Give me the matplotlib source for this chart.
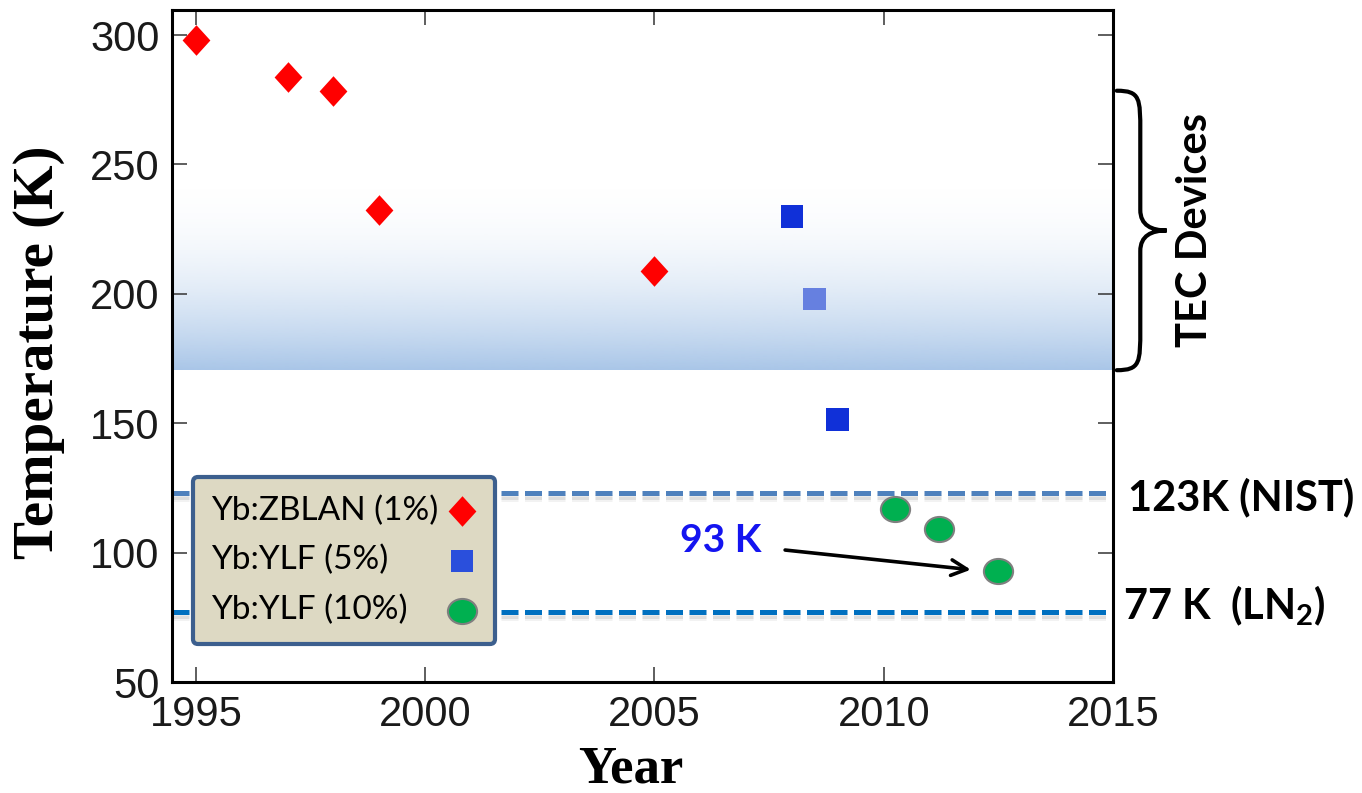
import numpy as np
import matplotlib
matplotlib.use("Agg")
import matplotlib.pyplot as plt
import matplotlib.patheffects as pe
from matplotlib.path import Path
from matplotlib.patches import PathPatch
from matplotlib.offsetbox import DrawingArea
from matplotlib.transforms import Affine2D, blended_transform_factory

plt.rcParams['mathtext.fontset'] = 'custom'
plt.rcParams['mathtext.rm'] = 'Lato:bold'
plt.rcParams['mathtext.bf'] = 'Lato:bold'

# -------------------------
# dados
# -------------------------
zblan_ano = [1995, 1997, 1998, 1999, 2005]
zblan_temp = [298, 284, 278.5, 232.5, 209]

ylf5_ano = [2008.0, 2008.5, 2009.0]
ylf5_temp = [230, 198, 151.5]
ylf5_cores = ['#1030d8', '#6680e0', '#1030d8']

ylf10_ano = [2010.25, 2011.2, 2012.5]
ylf10_temp = [117, 109, 93]

labels = ['Yb:ZBLAN (1%)', 'Yb:YLF (5%)', 'Yb:YLF (10%)']

nist_temp = 123
ln2_temp = 77
tec_faixa = (170.5, 278.5)   # chave "TEC Devices"
gradiente_topo = 245

seta_inicio = (2007.85, 101.0)
seta_fim = (2011.9, 93.4)
texto_93 = (2005.55, 104.5)

xticks = [1995, 2000, 2005, 2010, 2015]
yticks = [50, 100, 150, 200, 250, 300]

# -------------------------
# marcadores
# -------------------------
losango = Path([(0, 1.1), (1, 0), (0, -1.1), (-1, 0), (0, 1.1)],
               [Path.MOVETO, Path.LINETO, Path.LINETO, Path.LINETO, Path.CLOSEPOLY])
elipse = Path.unit_circle().transformed(Affine2D().scale(1, 0.86))

# -------------------------
# figura
# -------------------------
fig = plt.figure(figsize=(13.62, 7.93), dpi=100)
ax = fig.add_axes([172/1362, 111/793, 941/1362, 672/793])

xmin, xmax = 1994.48, 2015
ymin, ymax = 50, 309.7

# faixa azul com gradiente
t = np.linspace(0, 1, 256)[:, None]
grad = np.zeros((256, 1, 4))
grad[..., 0] = 169/255
grad[..., 1] = 198/255
grad[..., 2] = 232/255
grad[..., 3] = t**2
ax.imshow(grad, extent=[xmin, xmax, tec_faixa[0], gradiente_topo],
          aspect='auto', origin='upper', zorder=0, interpolation='bilinear')

# linhas tracejadas (com sombra suave)
sombra = [pe.SimpleLineShadow(offset=(0, -2.5), shadow_color='0.3', alpha=0.12),
          pe.SimpleLineShadow(offset=(0, -4), shadow_color='0.3', alpha=0.07),
          pe.Normal()]
ax.axhline(nist_temp, color='#4f81bd', lw=3.6, ls=(0, (3.4, 1.3)),
           zorder=2, path_effects=sombra)
ax.axhline(ln2_temp, color='#0070c0', lw=3.6, ls=(0, (3.4, 1.3)),
           zorder=2, path_effects=sombra)

# pontos
ax.scatter(zblan_ano, zblan_temp, marker=losango, s=22**2, color='#ff0000',
           linewidths=0, zorder=4, label=labels[0])
ax.scatter(ylf5_ano, ylf5_temp, marker='s', s=16.5**2, c=ylf5_cores,
           linewidths=0, zorder=4, label=labels[1])
ax.scatter(ylf10_ano, ylf10_temp, marker=elipse, s=21**2, color='#00b050',
           edgecolors='#7f7f7f', linewidths=1.5, zorder=4, label=labels[2])

# seta 93 K
ax.annotate('', xy=seta_fim, xytext=seta_inicio,
            arrowprops=dict(arrowstyle='->', lw=2.6, color='black',
                            mutation_scale=28, shrinkA=0, shrinkB=0), zorder=5)
ax.text(texto_93[0], texto_93[1], '93 K', color='#1414f0', fontsize=28,
        fontfamily='Lato', fontweight='bold', va='center', ha='left')

# eixos
ax.set_xlim(xmin, xmax)
ax.set_ylim(ymin, ymax)
ax.set_xticks(xticks)
ax.set_yticks(yticks)
ax.tick_params(direction='in', length=11, width=1.1, color='#333333',
               top=True, right=True, labelsize=30, labelcolor='#1a1a1a', pad=9)
for lab in ax.get_xticklabels() + ax.get_yticklabels():
    lab.set_fontfamily('Liberation Sans')
for sp in ax.spines.values():
    sp.set_linewidth(2.2)

ax.set_ylabel('Temperature (K)', fontfamily='Liberation Serif', fontweight='bold',
              fontsize=41, va='baseline')
ax.yaxis.set_label_coords(-0.1265, 0.491)
ax.set_xlabel('Year', fontfamily='Liberation Serif', fontweight='bold',
              fontsize=38, va='baseline')
ax.xaxis.set_label_coords(0.488, -0.149)

# legenda (texto à esquerda, marcadores à direita)
leg = ax.legend(loc='upper left', bbox_to_anchor=(0.0223, 0.305), borderaxespad=0,
                markerfirst=False, scatterpoints=1,
                prop={'family': 'Lato', 'size': 24}, handlelength=0.9,
                handletextpad=0.12, labelspacing=0.58, borderpad=0.55,
                fancybox=True, framealpha=1)
leg.get_frame().set_facecolor('#ddd9c3')
leg.get_frame().set_edgecolor('#3c5f8e')
leg.get_frame().set_linewidth(3)
leg.get_frame().set_boxstyle('round,pad=0,rounding_size=0.15')
leg.legend_handles[1].set_facecolor('#2a4fdc')
leg.set_zorder(6)

fig.canvas.draw()
r = fig.canvas.get_renderer()
larguras = [tx.get_window_extent(r).width for tx in leg.texts]
wmax = max(larguras)
coluna = leg._legend_handle_box.get_children()[0]
for item, w in zip(coluna.get_children(), larguras):
    caixa_txt, caixa_marc = item.get_children()
    espaco = DrawingArea((wmax - w) * 72 / fig.dpi, 1)
    item._children = [caixa_txt, espaco, caixa_marc]

# chave e textos à direita
trans = blended_transform_factory(ax.transAxes, ax.transData)
x0, xm, xt = 1.004, 1.029, 1.057
yb, yt = tec_faixa
ym = (yb + yt) / 2
verts = [(x0, yt),
         (xm, yt), (xm, yt - 3), (xm, yt - 16),
         (xm, ym + 8),
         (xm, ym + 2), (xm + 0.012, ym), (xt, ym),
         (xm + 0.012, ym), (xm, ym - 2), (xm, ym - 8),
         (xm, yb + 16),
         (xm, yb + 3), (xm, yb), (x0, yb)]
codes = [Path.MOVETO] + [Path.CURVE4]*3 + [Path.LINETO] + [Path.CURVE4]*6 + \
        [Path.LINETO] + [Path.CURVE4]*3
ax.add_patch(PathPatch(Path(verts, codes), transform=trans, fill=False,
                       lw=3, color='black', clip_on=False, capstyle='round'))

ax.text(1.087, ym, 'TEC Devices', transform=trans, rotation=90, ha='center',
        va='center', fontsize=30, fontfamily='Lato', fontweight='bold', clip_on=False)
ax.text(1.016, nist_temp - 1.5, '123K (NIST)', transform=trans, ha='left', va='center',
        fontsize=30, fontfamily='Lato', fontweight='bold', clip_on=False)
ax.text(1.0106, ln2_temp + 2.5, '77 K  (LN$_2$)', transform=trans, ha='left', va='center',
        fontsize=30, fontfamily='Lato', fontweight='bold', clip_on=False)

fig.savefig('out.png', dpi=100)
